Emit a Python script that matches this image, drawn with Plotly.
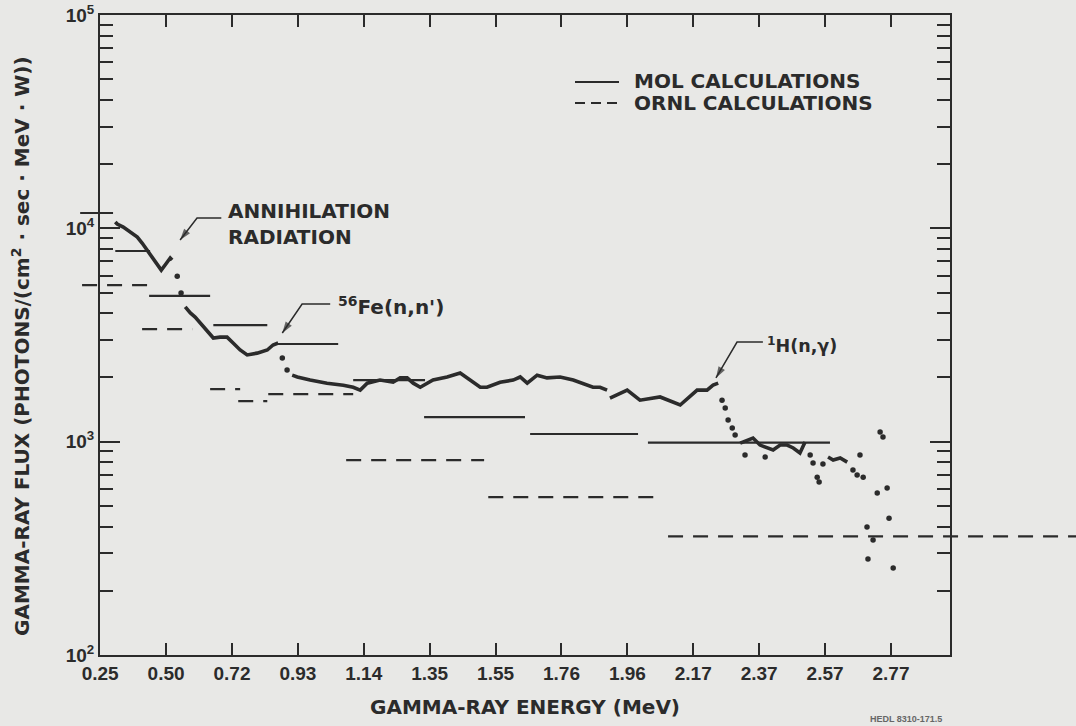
import math
import plotly.graph_objects as go

# ---------------- data ----------------
TICK_LABELS = ["0.25", "0.50", "0.72", "0.93", "1.14", "1.35", "1.55",
               "1.76", "1.96", "2.17", "2.37", "2.57", "2.77"]

Y_TICK_VALUES = [1e2, 1e3, 1e4, 1e5]
Y_TICK_LABELS = ["10<sup>2</sup>", "10<sup>3</sup>", "10<sup>4</sup>", "10<sup>5</sup>"]

# measured spectrum, continuous trace (None = break in the trace)
MEAS_LINE_E = [0.341, 0.347, 0.366, 0.388, 0.410, 0.425, 0.441, 0.457, 0.472, 0.485, 0.497, 0.513, 0.519, None,
               0.560, 0.576, 0.591, 0.607, 0.629, 0.648, 0.669, 0.691, 0.710, 0.732, 0.754, 0.785, 0.817, 0.835, 0.851, None,
               0.895, 0.911, 0.951, 1.004, 1.055, 1.086, 1.108, 1.130, 1.170, 1.211, 1.233, 1.255, 1.274, 1.296,
               1.336, 1.380, 1.421, 1.452, 1.484, 1.505, 1.546, 1.587, 1.609, 1.631, 1.662, 1.693, 1.734, 1.775,
               1.818, 1.837, 1.859, 1.881, None,
               1.890, 1.944, 1.984, 2.047, 2.110, 2.150, 2.163, 2.194, 2.213, 2.229, None,
               2.298, 2.338, 2.360, 2.377, 2.401, 2.423, 2.445, 2.464, 2.485, 2.501, None,
               2.573, 2.589, 2.611, 2.633]
MEAS_LINE_FLUX = [10700, 10470, 10140, 9610, 9100, 8530, 7910, 7330, 6730, 6370, 6730, 7260, 7100, None,
                  4280, 4010, 3840, 3600, 3340, 3060, 3090, 3090, 2900, 2690, 2550, 2600, 2690, 2840, 2900, None,
                  2050, 2010, 1945, 1880, 1840, 1800, 1745, 1880, 1945, 1900, 1990, 1990, 1880, 1800,
                  1945, 2010, 2100, 1945, 1800, 1800, 1900, 1945, 2010, 1880, 2050, 1990, 2010, 1945,
                  1840, 1800, 1800, 1745, None,
                  1600, 1745, 1565, 1620, 1485, 1690, 1745, 1745, 1840, 1880, None,
                  985, 1040, 964, 944, 914, 964, 964, 934, 885, 996, None,
                  847, 820, 838, 802]

# measured spectrum, isolated points
MEAS_DOT_E = [0.535, 0.547, 0.864, 0.879,
              2.241, 2.251, 2.260, 2.273, 2.282, 2.313, 2.376,
              2.517, 2.526, 2.539, 2.545, 2.557,
              2.651, 2.664, 2.673, 2.683, 2.695, 2.698, 2.714, 2.727, 2.736, 2.745, 2.758, 2.764, 2.777]
MEAS_DOT_FLUX = [5970, 4970, 2470, 2170,
                 1565, 1440, 1262, 1158, 1074, 866, 847,
                 866, 794, 682, 647, 785,
                 736, 697, 866, 682, 398, 282, 346, 574, 1109, 1051, 606, 438, 256]

# MOL calculations (group fluxes)
MOL_E_START = [0.231, 0.341, 0.447, 0.648, 0.842, 1.086, 1.308, 1.640, 2.009]
MOL_E_END = [0.334, 0.450, 0.638, 0.817, 1.039, 1.311, 1.624, 1.978, 2.579]
MOL_FLUX = [11800, 7830, 4820, 3520, 2870, 1945, 1303, 1086, 990]

# ORNL calculations (group fluxes)
ORNL_E_START = [0.237, 0.425, 0.638, 0.726, 0.820, 1.064, 1.509, 2.072]
ORNL_E_END = [0.450, 0.582, 0.732, 0.817, 1.086, 1.496, 2.047, 3.350]
ORNL_FLUX = [5420, 3370, 1765, 1550, 1672, 820, 550, 360]

LEGEND_NAMES = ["MOL CALCULATIONS", "ORNL CALCULATIONS"]

# ---------------- styling / geometry ----------------
W, H = 1076, 726
PLOT_L, PLOT_R, PLOT_T, PLOT_B = 100, 950, 15, 655
BG = "#e8e8e6"
INK = "#2b2b2b"
TICK_FONT = "Liberation Sans, Arial, sans-serif"
TEXT_FONT = "DejaVu Sans, Verdana, sans-serif"
ORNL_DASH = "15px,10px"

first, last = float(TICK_LABELS[1]), float(TICK_LABELS[-1])
step = (last - first) / (len(TICK_LABELS) - 2)
TICK_POS = [first + (i - 1) * step for i in range(len(TICK_LABELS))]

X_RANGE = [TICK_POS[0] - 0.0005, TICK_POS[0] - 0.0005 + (PLOT_R - PLOT_L) * step / 65.9]
k = (X_RANGE[1] - X_RANGE[0]) / (PLOT_R - PLOT_L)
X2_RANGE = [X_RANGE[0] - PLOT_L * k, X_RANGE[1] + (W - PLOT_R) * k]


def steps(starts, ends, vals):
    xs, ys = [], []
    for a, b, v in zip(starts, ends, vals):
        xs += [a, b, None]
        ys += [v, v, None]
    return xs, ys


def px_x(p):
    return p / W


def px_y(p):
    return (PLOT_B - p) / (PLOT_B - PLOT_T)


fig = go.Figure()

mx, my = steps(MOL_E_START, MOL_E_END, MOL_FLUX)
fig.add_trace(go.Scatter(x=mx, y=my, mode="lines", name=LEGEND_NAMES[0], showlegend=False,
                         line=dict(color=INK, width=2.2), xaxis="x2", yaxis="y"))
ox, oy = steps(ORNL_E_START, ORNL_E_END, ORNL_FLUX)
fig.add_trace(go.Scatter(x=ox, y=oy, mode="lines", name=LEGEND_NAMES[1], showlegend=False,
                         line=dict(color=INK, width=2.2, dash=ORNL_DASH), xaxis="x2", yaxis="y"))

fig.add_trace(go.Scatter(x=MEAS_LINE_E, y=MEAS_LINE_FLUX, mode="lines", showlegend=False,
                         line=dict(color=INK, width=3.6), connectgaps=False))
fig.add_trace(go.Scatter(x=MEAS_DOT_E, y=MEAS_DOT_FLUX, mode="markers", showlegend=False,
                         marker=dict(color=INK, size=5.5)))

# labelled features: text position, leader (horizontal part end, corner), arrow tip, font size
LABELS = [
    (0.688, 10470, 0.673, 0.597, 11170, 0.544, 8810, "ANNIHILATION<br>RADIATION", 20),
    (1.033, 4320, 1.014, 0.926, 4420, 0.864, 3230, "<sup>56</sup>Fe(n,n')", 20),
    (2.376, 2840, 2.369, 2.288, 2930, 2.222, 1990, "<sup>1</sup>H(n,\u03b3)", 17.5),
]
for tx, ty, cx1, cx0, cy, px, py, txt, fs in LABELS:
    fig.add_trace(go.Scatter(x=[cx1, cx0, px], y=[cy, cy, py], mode="lines+markers", showlegend=False,
                             line=dict(color=INK, width=1.5),
                             marker=dict(symbol=["circle", "circle", "arrow"], size=[0, 0, 12],
                                         angleref="previous", color=INK, line=dict(width=0))))
    fig.add_annotation(x=tx, y=math.log10(ty), xref="x", yref="y", text=txt, showarrow=False,
                       xanchor="left", yanchor="middle", align="left",
                       font=dict(size=fs, color=INK, family=TEXT_FONT, weight="bold"))

# legend key (drawn by hand to match the long sample lines)
fig.add_shape(type="line", xref="paper", yref="paper", x0=px_x(575), x1=px_x(619),
              y0=px_y(82), y1=px_y(82), line=dict(color=INK, width=2.2))
fig.add_shape(type="line", xref="paper", yref="paper", x0=px_x(575), x1=px_x(622),
              y0=px_y(103), y1=px_y(103), line=dict(color=INK, width=2.2, dash="10px,6px"))
for name, yy in zip(LEGEND_NAMES, (81, 103)):
    fig.add_annotation(x=px_x(632), y=px_y(yy), xref="paper", yref="paper", text=name,
                       showarrow=False, xanchor="left", yanchor="middle",
                       font=dict(size=20, color=INK, family=TEXT_FONT, weight="bold"))

# y-axis title placed where the reference prints it
fig.add_annotation(x=px_x(21), y=px_y(346), xref="paper", yref="paper", textangle=-90,
                   text="GAMMA-RAY FLUX (PHOTONS/(cm<sup>2</sup> \u00b7 sec \u00b7 MeV \u00b7 W))",
                   showarrow=False, xanchor="center", yanchor="middle",
                   font=dict(size=20, color=INK, family=TEXT_FONT, weight="bold"))

fig.add_annotation(x=px_x(906), y=px_y(719), xref="paper", yref="paper",
                   text="HEDL 8310-171.5", showarrow=False, xanchor="center", yanchor="middle",
                   font=dict(size=9, color="#666", family=TICK_FONT, weight="bold"))

minor_vals = [m * 10 ** d for d in (2, 3, 4) for m in range(2, 10)]

fig.update_layout(
    width=W, height=H,
    margin=dict(l=0, r=0, t=PLOT_T, b=H - PLOT_B, pad=0),
    paper_bgcolor=BG, plot_bgcolor="rgba(0,0,0,0)",
    font=dict(family=TICK_FONT, size=19, color=INK, weight="bold"),
    showlegend=False,
    xaxis=dict(domain=[PLOT_L / W, PLOT_R / W], range=X_RANGE, anchor="y",
               tickmode="array", tickvals=TICK_POS, ticktext=TICK_LABELS,
               ticks="inside", ticklen=12, tickwidth=1.6, tickcolor=INK,
               showline=True, linewidth=2, linecolor=INK, mirror="ticks",
               showgrid=False, zeroline=False, automargin=False,
               tickfont=dict(size=19, family=TICK_FONT),
               title=dict(text="GAMMA-RAY ENERGY (MeV)", standoff=17,
                          font=dict(size=20, family=TEXT_FONT, weight="bold"))),
    xaxis2=dict(domain=[0, 1], range=X2_RANGE, anchor="y", visible=False),
    yaxis=dict(type="log", range=[2, 5], anchor="x",
               tickmode="array", tickvals=Y_TICK_VALUES, ticktext=Y_TICK_LABELS,
               ticks="inside", ticklen=20, tickwidth=1.6, tickcolor=INK,
               minor=dict(tickmode="array", tickvals=minor_vals, ticks="inside", ticklen=13,
                          tickwidth=1.6, tickcolor=INK, showgrid=False),
               showline=True, linewidth=2, linecolor=INK, mirror="ticks",
               showgrid=False, zeroline=False, automargin=False,
               tickfont=dict(size=19, family=TICK_FONT)),
)

fig.write_html("out.html")
